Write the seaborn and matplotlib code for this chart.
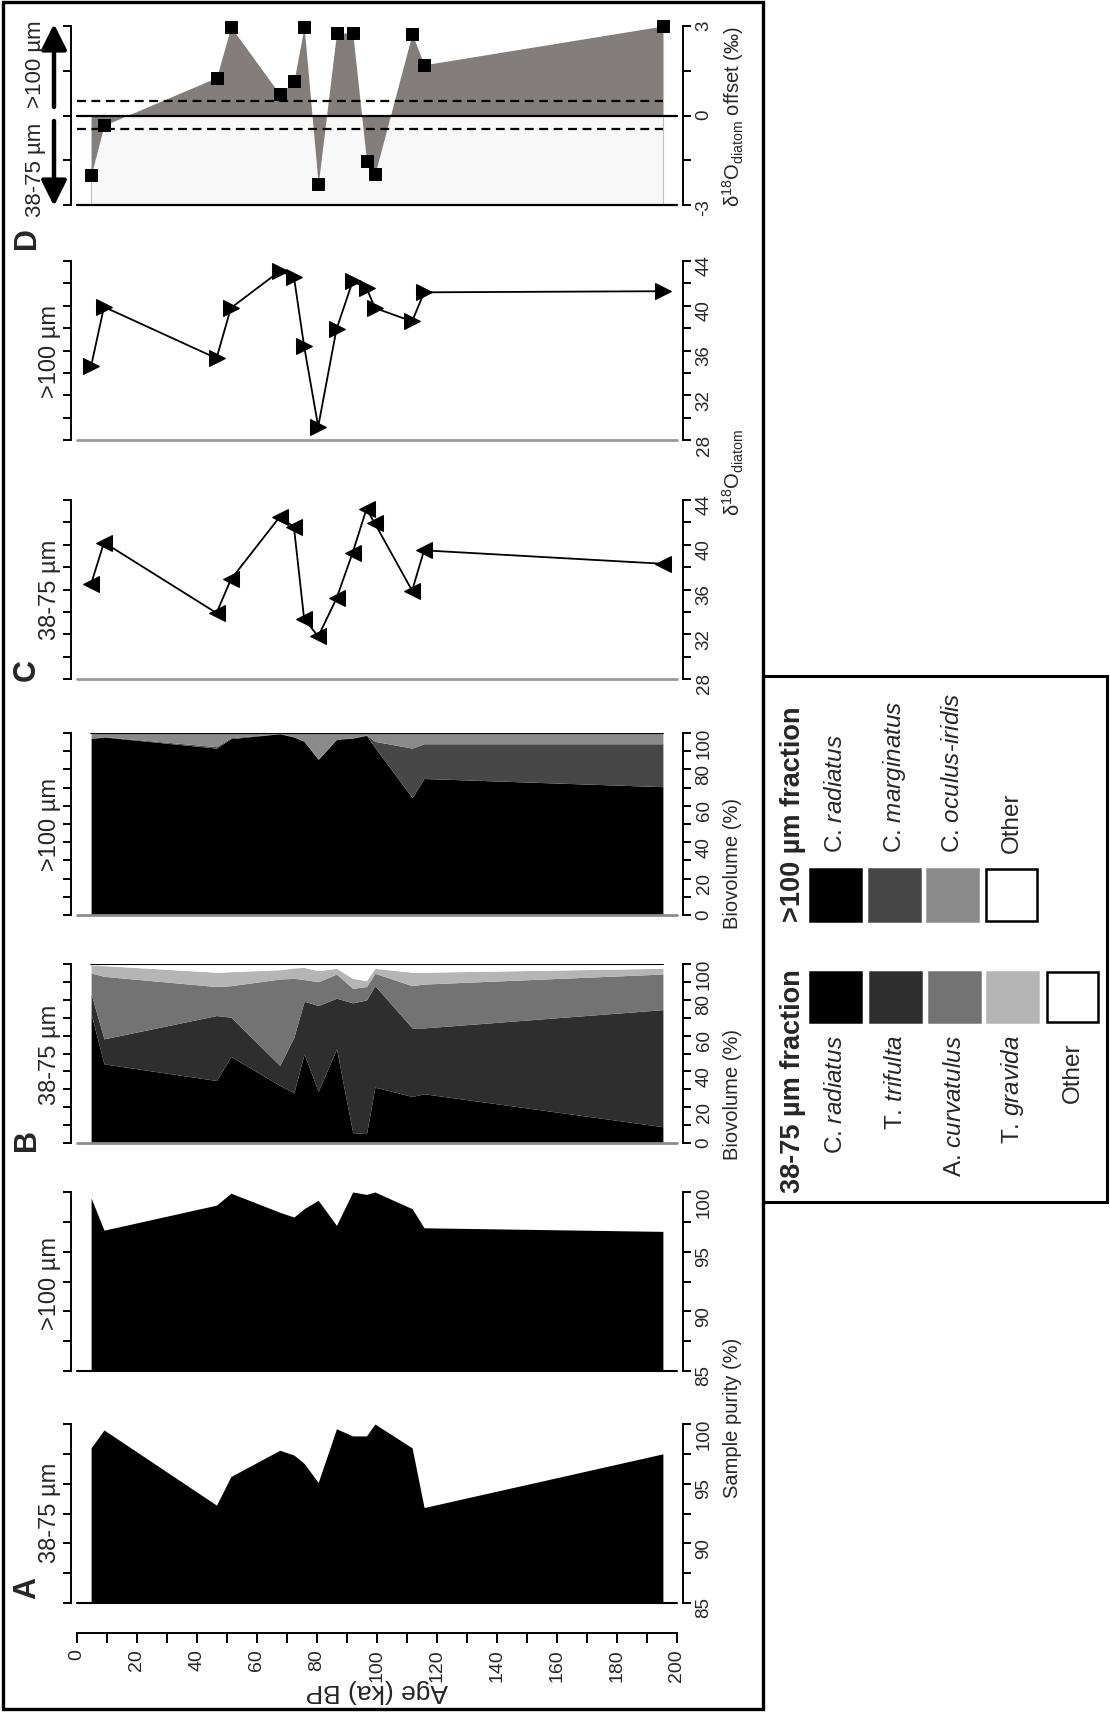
import numpy as np
import pandas as pd
import matplotlib
matplotlib.use("Agg")
import matplotlib.pyplot as plt
import matplotlib.patches as mpatches
from matplotlib.ticker import MultipleLocator
import seaborn as sns

# sample ages (ka BP)
age = [4.7, 9.0, 46.5, 51.3, 67.6, 72.3, 75.7, 80.4, 86.5, 91.9, 96.5, 99.3, 111.7, 115.7, 195.3]

# A - sample purity (%)
purity_small = [98.0, 99.5, 93.2, 95.6, 97.8, 97.4, 96.7, 95.1, 99.6, 99.0, 99.0, 100.0, 98.0, 93.0, 97.5]
purity_large = [99.5, 96.8, 98.9, 99.9, 98.3, 97.9, 98.6, 99.3, 97.2, 100.0, 99.8, 100.0, 98.6, 97.0, 96.7]

# B - biovolume (%), 38-75 um fraction
small_radiatus = [72.1, 44.2, 34.9, 48.3, 32.2, 28.1, 49.8, 28.8, 52.6, 5.8, 5.2, 31.2, 26.0, 27.5, 9.1]
small_trifulta = [11.2, 14.0, 36.3, 22.0, 11.1, 31.0, 29.4, 48.0, 28.3, 72.5, 74.7, 56.7, 38.3, 36.8, 65.4]
small_curvatulus = [11.7, 34.9, 16.2, 17.6, 48.3, 32.9, 12.1, 13.3, 13.5, 8.1, 7.5, 6.9, 23.6, 24.5, 19.9]
small_gravida = [4.6, 6.0, 8.0, 7.8, 5.2, 5.8, 6.8, 6.2, 3.2, 5.6, 3.3, 2.8, 7.5, 6.6, 3.2]
small_other = [0.4, 0.9, 4.6, 4.3, 3.2, 2.2, 1.9, 3.7, 2.4, 8.0, 9.3, 2.4, 4.6, 4.6, 2.4]

# B - biovolume (%), >100 um fraction
large_radiatus = [96.9, 97.8, 91.7, 96.9, 99.6, 97.8, 95.4, 85.5, 96.5, 97.2, 98.7, 92.1, 64.5, 75.0, 70.5]
large_marginatus = [0.4, 0.2, 0.8, 0.5, 0.1, 0.2, 0.2, 0.2, 0.2, 0.2, 0.2, 3.3, 27.2, 19.1, 23.6]
large_oculus = [2.7, 2.0, 7.5, 2.6, 0.3, 2.0, 4.4, 14.3, 3.3, 2.6, 1.1, 4.6, 8.3, 5.9, 5.9]
large_other = [0.0] * 15

# C - d18O diatom
d18o_small = [36.5, 40.2, 33.9, 36.9, 42.5, 41.6, 33.4, 31.8, 35.2, 39.3, 43.2, 41.9, 35.9, 39.5, 38.3]
d18o_large = [34.6, 39.9, 35.3, 39.8, 43.1, 42.6, 36.4, 29.2, 37.9, 42.2, 41.6, 39.8, 38.6, 41.2, 41.3]

# D - offset (>100 minus 38-75), permil
offset = [-2.0, -0.33, 1.27, 2.97, 0.71, 1.15, 2.97, -2.31, 2.76, 2.77, -1.51, -1.97, 2.74, 1.70, 3.0]
offset_band = [-0.45, 0.47]

small_names = ["C. $\\mathit{radiatus}$", "T. $\\mathit{trifulta}$", "A. $\\mathit{curvatulus}$",
               "T. $\\mathit{gravida}$", "Other"]
large_names = ["C. $\\mathit{radiatus}$", "C. $\\mathit{marginatus}$",
               "C. $\\mathit{oculus}$-$\\mathit{iridis}$", "Other"]
small_colors = ["#000000", "#2e2e2e", "#737373", "#b5b5b5", "#ffffff"]
large_colors = ["#000000", "#474747", "#8a8a8a", "#ffffff"]

sns.set_style("ticks")
plt.rcParams["font.family"] = ["Liberation Sans", "DejaVu Sans"]
plt.rcParams["mathtext.fontset"] = "custom"
plt.rcParams["mathtext.rm"] = "Liberation Sans"
plt.rcParams["mathtext.it"] = "Liberation Sans:italic"
plt.rcParams["mathtext.bf"] = "Liberation Sans:bold"
plt.rcParams["axes.unicode_minus"] = False

W, H = 1110, 1715
fig = plt.figure(figsize=(W / 100, H / 100), dpi=100)


def fx(x):
    return x / W


def fy(y):
    return 1 - y / H


L, R = 71, 683


def add_panel(top, bottom, lo, hi, major, minor):
    ax = fig.add_axes([fx(L), fy(bottom), (R - L) / W, (bottom - top) / H])
    ax.patch.set_alpha(0)
    ax.set_xlim(-2, 202)
    ax.set_ylim(lo, hi)
    ax.set_xticks([])
    ax.spines["top"].set_visible(False)
    ax.spines["bottom"].set_visible(False)
    for s in ["left", "right"]:
        ax.spines[s].set_visible(True)
        ax.spines[s].set_linewidth(1.4)
        ax.spines[s].set_color("k")
    ax.yaxis.set_major_locator(MultipleLocator(major))
    ax.yaxis.set_minor_locator(MultipleLocator(minor))
    ax.tick_params(axis="y", which="both", left=True, right=True, labelleft=False,
                   labelright=True, direction="out", length=6, width=1.4, color="k")
    ax.tick_params(axis="y", which="major", labelsize=13.5, labelrotation=90, pad=3)
    ax.set_ylabel("")
    return ax


# ---- D : offset ----
axD = add_panel(27, 206, -3, 3, 3, 1.5)
axD.fill_between(age, -3, 0, color="#f8f8f8", lw=0)
axD.vlines([age[0], age[-1]], -3, [offset[0], offset[-1]], color="0.75", lw=0.8)
axD.fill_between(age, offset, 0, color="#837d7b", lw=0)
axD.plot([0, 200], [0, 0], color="k", lw=1.6)
axD.plot([0, 200], [-3, -3], color="k", lw=1.6, clip_on=False)
for b in offset_band:
    axD.plot([0, age[-1]], [b, b], color="k", lw=1.6, ls=(0, (4, 2.5)))
sns.scatterplot(x=age, y=offset, marker="s", s=75, color="k", edgecolor="k", ax=axD, zorder=5, clip_on=False)

# ---- C : d18O ----
axC2 = add_panel(262, 441, 28, 44, 4, 2)
axC2.plot([0, 200], [28, 28], color="0.6", lw=2, clip_on=False)
sns.lineplot(x=age, y=d18o_large, sort=False, ax=axC2, color="k", lw=1.3, marker=">",
             markersize=11, markeredgecolor="k", clip_on=False)
axC1 = add_panel(501, 680, 28, 44, 4, 2)
axC1.plot([0, 200], [28, 28], color="0.6", lw=2, clip_on=False)
sns.lineplot(x=age, y=d18o_small, sort=False, ax=axC1, color="k", lw=1.3, marker="<",
             markersize=11, markeredgecolor="k", clip_on=False)

# ---- B : biovolume ----
axB2 = add_panel(734, 916, 0, 100, 20, 10)
axB2.plot([0, 200], [0, 0], color="0.55", lw=2, clip_on=False)
axB2.stackplot(age, large_radiatus, large_marginatus, large_oculus, large_other,
               colors=large_colors, lw=0)
axB2.plot([age[0], age[-1]], [100, 100], color="k", lw=1.5)

axB1 = add_panel(965, 1144, 0, 100, 20, 10)
axB1.plot([0, 200], [0, 0], color="0.55", lw=2, clip_on=False)
axB1.stackplot(age, small_radiatus, small_trifulta, small_curvatulus, small_gravida, small_other,
               colors=small_colors, lw=0)
axB1.plot([age[0], age[-1]], [100, 100], color="k", lw=1.5)

# ---- A : purity ----
axA2 = add_panel(1193, 1372, 85, 100, 5, 2.5)
axA2.fill_between(age, 85, purity_large, color="k", lw=0)
axA2.plot([0, 200], [85, 85], color="k", lw=1.5, clip_on=False)
axA1 = add_panel(1425, 1604, 85, 100, 5, 2.5)
axA1.fill_between(age, 85, purity_small, color="k", lw=0)
axA1.plot([0, 200], [85, 85], color="k", lw=1.5, clip_on=False)

# ---- age axis ----
axT = fig.add_axes([fx(L), fy(1634), (R - L) / W, 0.0005])
axT.patch.set_alpha(0)
axT.set_xlim(-2, 202)
axT.set_yticks([])
for s in ["left", "right", "top"]:
    axT.spines[s].set_visible(False)
axT.spines["bottom"].set_bounds(0, 200)
axT.spines["bottom"].set_linewidth(1.4)
axT.spines["bottom"].set_color("k")
axT.xaxis.set_major_locator(MultipleLocator(20))
axT.xaxis.set_minor_locator(MultipleLocator(10))
axT.tick_params(axis="x", which="both", direction="out", length=7, width=1.4, color="k")
axT.tick_params(axis="x", which="major", labelsize=14, labelrotation=90, pad=4)
fig.text(fx(377), fy(1691), "Age (ka) BP", rotation=180, ha="center", va="center", fontsize=19)

# ---- left labels ----
side = [(">100 µm", 351), ("38-75 µm", 590), (">100 µm", 825), ("38-75 µm", 1055),
        (">100 µm", 1283), ("38-75 µm", 1513)]
for txt, yy in side:
    fig.text(fx(50), fy(yy), txt, rotation=90, ha="center", va="center", fontsize=17)
for letter, yy in [("A", 1588), ("B", 1140), ("C", 670), ("D", 238)]:
    fig.text(fx(27), fy(yy), letter, rotation=90, ha="center", va="center", fontsize=22,
             fontweight="bold")
fig.text(fx(35), fy(64), ">100 µm", rotation=90, ha="center", va="center", fontsize=16)
fig.text(fx(35), fy(170), "38-75 µm", rotation=90, ha="center", va="center", fontsize=16)
arrow = dict(arrowstyle="-|>,head_length=0.7,head_width=0.35", lw=3.2, color="k",
             shrinkA=0, shrinkB=0, mutation_scale=22)
fig.add_artist(mpatches.FancyArrowPatch((fx(54), fy(108)), (fx(54), fy(25)),
                                        transform=fig.transFigure, **arrow))
fig.add_artist(mpatches.FancyArrowPatch((fx(54), fy(122)), (fx(54), fy(207)),
                                        transform=fig.transFigure, **arrow))

# ---- right labels ----
right = [("δ$^{18}$O$_{\\rm diatom}$ offset (‰)", 117), ("δ$^{18}$O$_{\\rm diatom}$", 473),
         ("Biovolume (%)", 864), ("Biovolume (%)", 1094), ("Sample purity (%)", 1418)]
for txt, yy in right:
    fig.text(fx(733), fy(yy), txt, rotation=90, ha="center", va="center", fontsize=14.5)

# ---- frames ----
fig.add_artist(mpatches.Rectangle((fx(3), fy(1710)), 760 / W, 1707 / H, fill=False,
                                  lw=2.4, ec="k", transform=fig.transFigure))
fig.add_artist(mpatches.Rectangle((fx(763), fy(1203)), 344 / W, 526 / H, fill=False,
                                  lw=2.2, ec="k", transform=fig.transFigure))

# ---- legend ----
fig.text(fx(793), fy(922), ">100 µm fraction", rotation=90, ha="center", va="bottom",
         fontsize=19.5, fontweight="bold")
fig.text(fx(793), fy(969), "38-75 µm fraction", rotation=90, ha="center", va="top",
         fontsize=19.5, fontweight="bold")
large_x = [810, 869, 927, 986]
for x0, c, name in zip(large_x, large_colors, large_names):
    ec = "k" if c == "#ffffff" else c
    fig.add_artist(mpatches.Rectangle((fx(x0), fy(922)), 51 / W, 52 / H, fc=c, ec=ec,
                                      lw=1.8, transform=fig.transFigure))
    fig.text(fx(x0 + 26), fy(853), name, rotation=90, ha="center", va="bottom", fontsize=17.5)
small_x = [810, 870, 929, 987, 1047]
for x0, c, name in zip(small_x, small_colors, small_names):
    ec = "k" if c == "#ffffff" else c
    fig.add_artist(mpatches.Rectangle((fx(x0), fy(1023)), 51 / W, 50 / H, fc=c, ec=ec,
                                      lw=1.8, transform=fig.transFigure))
    top = 1043 if name == "Other" else 1035
    fig.text(fx(x0 + 26), fy(top), name, rotation=90, ha="center", va="top", fontsize=17.5)

fig.savefig("out.png", dpi=100)
